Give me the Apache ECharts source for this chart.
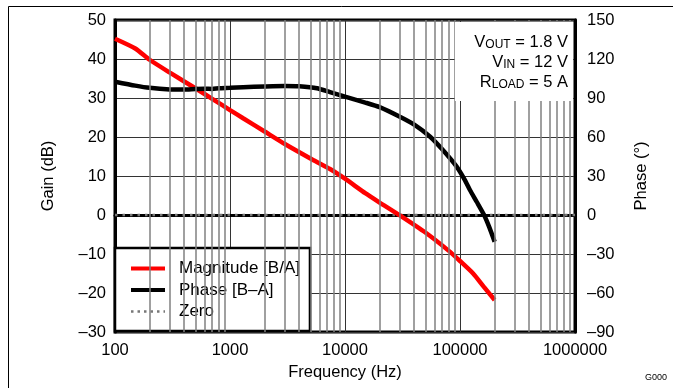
<!DOCTYPE html>
<html>
<head>
<meta charset="utf-8">
<script src="https://cdn.jsdelivr.net/npm/echarts@6/dist/echarts.min.js"></script>
<style>html,body{margin:0;padding:0;background:#fff;}#c{width:673px;height:388px;}</style>
</head>
<body>
<div id="c"></div>
<script>
// Frequencies (Hz) and values
const magFreq = [100, 150, 200, 300, 500, 700, 1000, 1300, 2000, 3000, 5000, 7400, 10000, 15000, 20000, 30000, 50000, 80000, 100000, 130000, 160000, 200000];
const magGain = [45.2, 42.7, 39.8, 36.5, 32.5, 29.8, 26.9, 24.8, 21.4, 18.2, 14.5, 11.8, 9.3, 5.6, 3.2, -0.1, -4.5, -9.2, -11.8, -15.0, -18.3, -21.8];
const phaseFreq = [100, 150, 200, 300, 400, 500, 600, 700, 800, 1000, 1300, 2000, 3000, 4000, 5700, 7400, 10000, 15000, 20000, 30000, 40000, 55000, 70000, 93500, 110000, 122000, 140000, 162000, 180000, 200000];
const phaseDeg = [102.5, 99.5, 97.8, 96.6, 96.5, 97.0, 97.2, 97.0, 97.5, 97.8, 98.3, 98.9, 99.3, 99.0, 97.5, 94.5, 91.0, 86.5, 83.0, 75.6, 69.5, 60.2, 50.5, 37.2, 27.0, 19.2, 10.0, 0.0, -9.5, -20.5];
const zeroFreq = [100, 1000000];
const zeroGain = [0, 0];
const minorFreqs = [200,300,400,500,600,700,800,900,2000,3000,4000,5000,6000,7000,8000,9000,20000,30000,40000,50000,60000,70000,80000,90000,200000,300000,400000,500000,600000,700000,800000,900000];
const xTickLabels = ['100', '1000', '10000', '100000', '1000000'];
const gainTicks = ['\u201330', '\u201320', '\u201310', '0', '10', '20', '30', '40', '50'];
const phaseTicks = ['\u201390', '\u201360', '\u201330', '0', '30', '60', '90', '120', '150'];
const legendNames = ['Magnitude [B/A]', 'Phase [B\u2013A]', 'Zero'];

const FONT = 'Liberation Sans, Arial, sans-serif';
const FS = 16.5;
const chart = echarts.init(document.getElementById('c'), null, {renderer: 'canvas'});
const pairs = (xs, ys) => xs.map((x, i) => [x, ys[i]]);

chart.setOption({
  animation: false,
  backgroundColor: '#fff',
  textStyle: {fontFamily: FONT},
  grid: {left: 115, top: 20, right: 98, bottom: 56, show: true, borderColor: '#000', borderWidth: 3, backgroundColor: 'transparent'},
  xAxis: {
    type: 'log', logBase: 10, min: 100, max: 1000000,
    name: 'Frequency (Hz)', nameLocation: 'middle', nameGap: 30,
    nameTextStyle: {fontSize: FS, color: '#000', fontFamily: FONT},
    axisLine: {show: true, lineStyle: {color: '#000', width: 3}},
    axisTick: {show: false},
    axisLabel: {fontSize: FS, color: '#000', fontFamily: FONT, margin: 10,
      formatter: v => xTickLabels[Math.round(Math.log10(v)) - 2]},
    splitLine: {show: true, lineStyle: {color: '#333', width: 1}},
    minorTick: {show: false}, minorSplitLine: {show: false}
  },
  yAxis: [{
    type: 'value', min: -30, max: 50, interval: 10, position: 'left',
    name: 'Gain (dB)', nameLocation: 'middle', nameGap: 58,
    nameTextStyle: {fontSize: FS, color: '#000', fontFamily: FONT},
    axisLine: {show: true, lineStyle: {color: '#000', width: 3}},
    axisTick: {show: false},
    axisLabel: {fontSize: FS, color: '#000', fontFamily: FONT, margin: 9,
      formatter: v => gainTicks[Math.round((v + 30) / 10)]},
    splitLine: {show: true, lineStyle: {color: ['#333','#333','#333','#b0b0b0','#333','#333','#333','#333','#333'], width: 1}}
  }, {
    type: 'value', min: -90, max: 150, interval: 30, position: 'right',
    name: 'Phase (\u00b0)', nameLocation: 'middle', nameGap: 58, nameRotate: 90,
    nameTextStyle: {fontSize: FS, color: '#000', fontFamily: FONT},
    axisLine: {show: true, lineStyle: {color: '#000', width: 3}},
    axisTick: {show: false},
    axisLabel: {fontSize: FS, color: '#000', fontFamily: FONT, margin: 12,
      formatter: v => phaseTicks[Math.round((v + 90) / 30)]},
    splitLine: {show: false}
  }],
  legend: {
    orient: 'vertical', left: 115, top: 248,
    data: [
      {name: legendNames[0], lineStyle: {width: 4, color: '#ff0000'}},
      {name: legendNames[1], lineStyle: {width: 4, color: '#000'}},
      {name: legendNames[2], lineStyle: {width: 2.5, color: '#777777', type: [2.5, 4]}}
    ],
    backgroundColor: '#fff', borderColor: '#000', borderWidth: 2.5, borderRadius: 0,
    padding: [10, 10, 9, 14], itemGap: 0.5, itemWidth: 34, itemHeight: 14,
    itemStyle: {opacity: 0},
    textStyle: {fontSize: 17, color: '#000', fontFamily: FONT, lineHeight: 21, padding: [0, 0, 0, 9]},
    selectedMode: false
  },
  series: [{
    name: 'grid', type: 'line', data: [], silent: true, z: 1,
    markLine: {silent: true, symbol: ['none', 'none'], label: {show: false}, animation: false,
      lineStyle: {color: '#808080', width: 1.5, type: 'solid'},
      data: minorFreqs.map(f => ({xAxis: f}))}
  }, {
    name: legendNames[2], type: 'line', yAxisIndex: 0, data: pairs(zeroFreq, zeroGain), z: 2,
    showSymbol: false, symbol: 'none', color: '#777777',
    lineStyle: {color: '#777777', width: 2.5, type: [2.5, 5]}
  }, {
    name: legendNames[0], type: 'line', yAxisIndex: 0, data: pairs(magFreq, magGain), z: 3,
    showSymbol: false, symbol: 'none', smooth: 0.2, color: '#ff0000',
    lineStyle: {color: '#ff0000', width: 4.5}
  }, {
    name: legendNames[1], type: 'line', yAxisIndex: 1, data: pairs(phaseFreq, phaseDeg), z: 3,
    showSymbol: false, symbol: 'none', smooth: 0.2, color: '#000',
    lineStyle: {color: '#000', width: 4.5}
  }],
  graphic: [
    {type: 'rect', shape: {x: 8.5, y: 6.5, width: 700, height: 400}, style: {fill: 'none', stroke: '#000', lineWidth: 1}, z: 0, silent: true},
    {type: 'rect', shape: {x: 455, y: 22, width: 118, height: 79}, style: {fill: '#fff'}, z: 50, silent: true},
    {type: 'text', x: 568, y: 32, z: 51, silent: true, style: {
      text: '{m|V}{s|OUT}{m| = 1.8 V}\n{m|V}{s|IN}{m| = 12 V}\n{m|R}{s|LOAD}{m| = 5 A}',
      align: 'right', verticalAlign: 'top', fill: '#000', font: FS + 'px ' + FONT,
      rich: {
        m: {fontSize: FS, fontFamily: FONT, lineHeight: 20, verticalAlign: 'middle'},
        s: {fontSize: 12, fontFamily: FONT, lineHeight: 20, verticalAlign: 'bottom', padding: [0, 0, 1, 0]}
      }}},
    {type: 'text', x: 645, y: 373, z: 51, silent: true, style: {text: 'G000', fill: '#000', font: '9px ' + FONT}}
  ]
});
</script>
</body>
</html>
